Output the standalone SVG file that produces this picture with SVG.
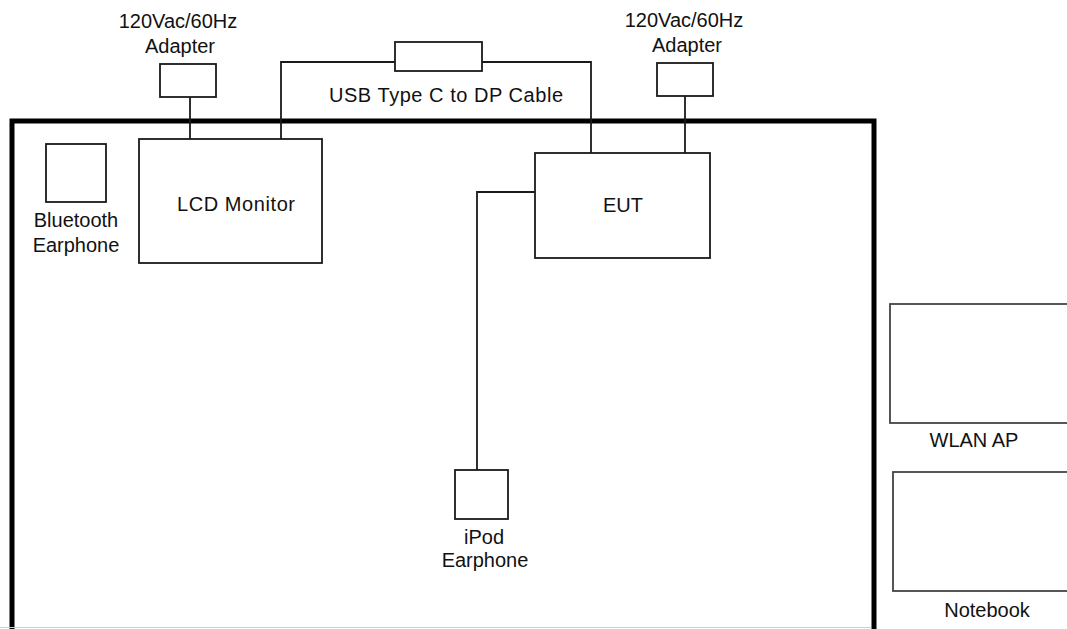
<svg xmlns="http://www.w3.org/2000/svg" width="1067" height="629" viewBox="0 0 1067 629">
<style>
.box{fill:#fff;stroke:#1a1a1a;stroke-width:1.8}
.wire{fill:none;stroke:#1a1a1a;stroke-width:1.8}
.lbl{font-family:"Liberation Sans",Arial,sans-serif;font-size:20px;fill:#111;text-anchor:middle}
</style>
<rect width="1067" height="629" fill="#fff"/>
<g id="frame">
<rect x="12" y="121" width="862" height="530" fill="none" stroke="#000" stroke-width="5"/>
<line x1="0" y1="627.5" x2="871" y2="627.5" stroke="#d0d0d0" stroke-width="1"/>
</g>
<g id="connectors">
<polyline class="wire" points="190,97 190,139"/>
<polyline class="wire" points="281,139 281,62 395,62"/>
<polyline class="wire" points="482,62 591,62 591,153"/>
<polyline class="wire" points="685,96 685,153"/>
<polyline class="wire" points="535,192 477,192 477,470"/>
</g>
<g id="adapter-left">
<rect class="box" x="160" y="64" width="56" height="33"/>
<text class="lbl" x="178" y="28">120Vac/60Hz</text>
<text class="lbl" x="180" y="53">Adapter</text>
</g>
<g id="cable">
<rect class="box" x="395" y="42" width="87" height="29"/>
<text class="lbl" x="446" y="102" textLength="234">USB Type C to DP Cable</text>
</g>
<g id="adapter-right">
<rect class="box" x="657" y="63" width="56" height="33"/>
<text class="lbl" x="684" y="27">120Vac/60Hz</text>
<text class="lbl" x="687" y="52">Adapter</text>
</g>
<g id="bluetooth">
<rect class="box" x="46" y="144" width="60" height="58"/>
<text class="lbl" x="76" y="227">Bluetooth</text>
<text class="lbl" x="76" y="252">Earphone</text>
</g>
<g id="lcd">
<rect class="box" x="139" y="139" width="183" height="124"/>
<text class="lbl" x="236" y="211" textLength="118">LCD Monitor</text>
</g>
<g id="eut">
<rect class="box" x="535" y="153" width="175" height="105"/>
<text class="lbl" x="623" y="212">EUT</text>
</g>
<g id="ipod">
<rect class="box" x="455" y="470" width="53" height="49"/>
<text class="lbl" x="484" y="544">iPod</text>
<text class="lbl" x="485" y="567">Earphone</text>
</g>
<g id="wlan">
<rect class="box" x="890" y="304" width="190" height="119" style="stroke:#444"/>
<text class="lbl" x="974" y="447">WLAN AP</text>
</g>
<g id="notebook">
<rect class="box" x="893" y="472" width="190" height="119" style="stroke:#444"/>
<text class="lbl" x="987" y="617">Notebook</text>
</g>
</svg>
